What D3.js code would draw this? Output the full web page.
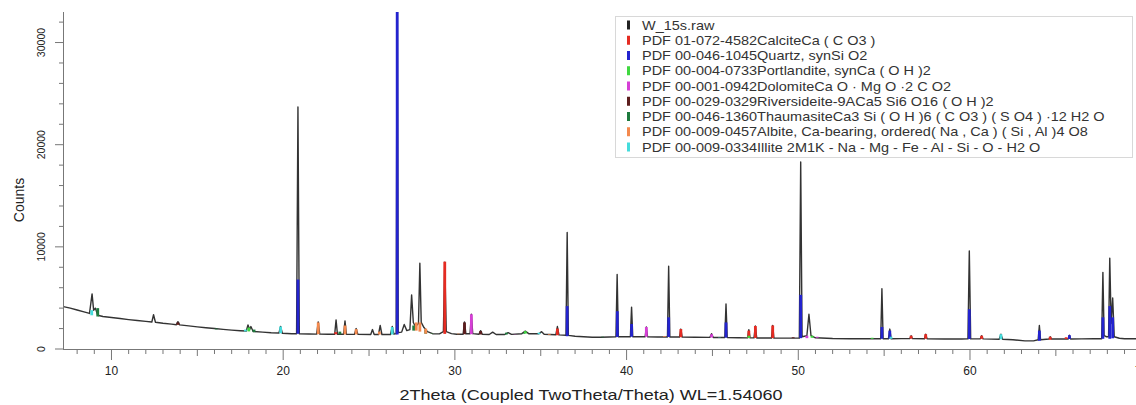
<!DOCTYPE html>
<html>
<head>
<meta charset="utf-8">
<script src="https://cdn.jsdelivr.net/npm/d3@7"></script>
<style>
body{margin:0;background:#fff;}
#chart{width:1136px;height:405px;}
text{font-family:"Liberation Sans",Arial,sans-serif;fill:#222;}
</style>
</head>
<body>
<div id="chart"></div>
<script>
// raw scan: [2theta, counts]
var rawScan=[
[7.20,4150],[7.6,4000],[8.0,3820],[8.4,3640],[8.72,3480],[8.87,5400],[8.96,3800],[9.06,4000],[9.2,3300],[9.5,3180],
[10.0,3080],[10.5,2980],[11.0,2880],[11.5,2790],[12.0,2700],[12.35,2640],[12.45,3350],[12.56,2620],[13.0,2520],[13.5,2430],
[13.78,2380],[13.87,2680],[13.97,2360],[14.5,2260],[15.0,2170],[15.5,2080],[16.0,2000],[16.5,1920],[17.0,1850],[17.5,1790],
[17.85,1760],[17.95,2350],[18.05,1900],[18.12,2200],[18.25,1720],[18.8,1650],[19.3,1590],[19.75,1560],[19.85,2200],[19.95,1540],
[20.5,1500],[20.78,1490],[20.86,23700],[20.94,1490],[21.5,1470],[21.95,1460],[22.04,2650],[22.13,1460],[22.6,1450],[23.0,1450],
[23.08,2850],[23.16,1450],[23.52,1440],[23.6,2750],[23.68,1440],[24.15,1430],[24.25,2000],[24.35,1430],[25.1,1420],[25.2,1900],
[25.3,1420],[25.55,1420],[25.65,2300],[25.75,1420],[26.25,1420],[26.35,2200],[26.45,1450],[26.58,1500],[26.64,40000],[26.70,1600],
[26.9,1650],[27.05,2400],[27.2,1800],[27.38,1900],[27.48,5300],[27.58,2600],[27.7,2200],[27.88,2500],[27.96,8400],[28.04,2600],
[28.2,2100],[28.4,1700],[28.7,1500],[29.1,1480],[29.33,1700],[29.41,8500],[29.5,1700],[29.8,1500],[30.1,1450],[30.48,1450],
[30.56,2650],[30.64,1500],[30.88,1500],[30.96,3400],[31.04,1500],[31.4,1450],[31.5,1800],[31.6,1450],[32.0,1420],[32.2,1650],
[32.4,1420],[32.9,1420],[33.1,1600],[33.3,1430],[33.9,1500],[34.1,1750],[34.3,1500],[34.9,1500],[35.05,1700],[35.2,1450],
[35.88,1400],[35.97,2200],[36.06,1380],[36.47,1350],[36.54,11400],[36.61,1330],[37.0,1250],[37.5,1200],[38.0,1150],[38.5,1150],
[39.0,1180],[39.38,1200],[39.45,7300],[39.52,1200],[40.22,1200],[40.29,4100],[40.36,1200],[41.08,1200],[41.15,2150],[41.22,1200],
[41.8,1180],[42.38,1180],[42.45,8100],[42.52,1180],[43.08,1170],[43.16,1950],[43.24,1160],[44.0,1150],[44.85,1140],[44.95,1500],
[45.05,1130],[45.72,1120],[45.79,4400],[45.86,1120],[46.5,1100],[47.05,1090],[47.12,1900],[47.19,1090],[47.42,1090],[47.5,2250],
[47.58,1080],[48.44,1070],[48.51,2300],[48.58,1070],[49.2,1060],[50.06,1060],[50.14,18300],[50.22,1200],[50.5,1300],[50.62,3400],
[50.74,1300],[51.0,1100],[52.0,1030],[53.0,1010],[54.0,1000],[54.8,1000],[54.87,5900],[54.94,1000],[55.25,1000],[55.33,1950],
[55.41,1000],[56.0,1020],[56.5,1030],[56.57,1300],[56.64,1020],[57.35,1000],[57.42,1450],[57.5,1000],[58.5,980],[59.5,980],
[59.88,990],[59.96,9600],[60.04,990],[60.6,1000],[60.68,1300],[60.76,990],[61.7,960],[61.8,1450],[61.9,950],[62.5,900],
[63.2,800],[63.7,800],[63.97,900],[64.04,2300],[64.11,900],[64.6,980],[64.67,1200],[64.74,980],[65.3,980],[65.72,980],
[65.79,1350],[65.86,980],[66.5,990],[67.2,1000],[67.67,1000],[67.74,7500],[67.81,1300],[67.95,1200],[68.07,1200],[68.14,8900],
[68.22,2500],[68.31,5000],[68.4,1200],[68.7,1050],[69.0,1000],[69.5,1000],[70.0,1000]
];

// reference sticks per phase: [2theta, counts at top]
var calcite=[[23.06,1650],[29.41,8550],[35.97,2000],[43.16,1950],[47.12,1800],[47.5,2250],[48.51,2300],[56.57,1300],[57.42,1450],[60.68,1300],[64.67,1200],[65.6,1150]];
var quartz=[[20.86,6800],[26.64,40000],[36.54,4200],[39.46,3700],[40.29,2450],[42.45,3100],[45.79,2600],[50.14,5300],[54.87,2150],[55.33,1800],[59.96,3900],[64.04,1800],[65.79,1350],[67.74,3100],[68.14,4200],[68.31,3100]];
var portlandite=[[18.0,2100],[28.66,1500],[34.1,1750],[47.12,1300],[50.8,1300],[54.3,1100]];
var dolomite=[[30.96,3400],[33.5,1450],[41.15,2150],[44.95,1450],[50.5,1300],[51.1,1200]];
var riversideite=[[13.87,2600],[30.56,2600],[31.5,1750],[49.7,1150]];
var thaumasite=[[9.2,4000],[16.1,2000],[18.3,1900],[23.3,1700],[27.6,2300],[28.3,1900],[33.0,1600],[34.0,1550],[38.6,1200]];
var albite=[[13.87,2350],[22.04,2600],[23.6,2300],[24.25,1950],[25.6,1700],[27.75,2600],[27.96,2600],[28.3,2000],[30.2,1500],[35.5,1450],[42.2,1250]];
var illite=[[8.85,3800],[17.8,1900],[19.85,2200],[26.35,2150],[34.9,1600],[45.4,1150],[55.4,1200],[61.8,1450]];

var legendNames=[
"W_15s.raw",
"PDF 01-072-4582CalciteCa ( C O3 )",
"PDF 00-046-1045Quartz, synSi O2",
"PDF 00-004-0733Portlandite, synCa ( O H )2",
"PDF 00-001-0942DolomiteCa O · Mg O ·2 C O2",
"PDF 00-029-0329Riversideite-9ACa5 Si6 O16 ( O H )2",
"PDF 00-046-1360ThaumasiteCa3 Si ( O H )6 ( C O3 ) ( S O4 ) ·12 H2 O",
"PDF 00-009-0457Albite, Ca-bearing, ordered( Na , Ca ) ( Si , Al )4 O8",
"PDF 00-009-0334Illite 2M1K - Na - Mg - Fe - Al - Si - O - H2 O"
];
var legendColors=["#222222","#e52b22","#2323cf","#3fd83f","#d63fd6","#5c1d1d","#1d7a3d","#f4894d","#45dcdc"];
var phases=[calcite,quartz,portlandite,dolomite,riversideite,thaumasite,albite,illite];

var xTicks=d3.range(8,71);
var xLabels=[10,20,30,40,50,60,70];
var yTicks=d3.range(0,33000,2000);
var yLabels=[0,10000,20000,30000];

var _svg=d3.select("#chart").append("svg")
    .attr("width",1136)
    .attr("height",405);

var x=d3.scaleLinear().domain([7.2,70]).range([63.4,1141.7]);
var y=d3.scaleLinear().domain([0,33000]).range([349,11.9]);

_svg.append("clipPath").attr("id","plotclip")
    .append("rect").attr("x",63).attr("y",12).attr("width",1080).attr("height",338);

var plot=_svg.append("g").attr("clip-path","url(#plotclip)");

// raw line
var line=d3.line()
    .x(function(d){return x(d[0]);})
    .y(function(d){return y(d[1]);});
plot.append("path")
    .datum(rawScan)
    .attr("d",line)
    .attr("fill","none")
    .attr("stroke","#333")
    .attr("stroke-width",1.4)
    .attr("stroke-linejoin","round");

// foot of a stick = lowest raw count near it
function footOf(pos){
    var near=rawScan.filter(function(d){return Math.abs(d[0]-pos)<0.6;});
    return d3.min(near,function(d){return d[1];});
}

phases.forEach(function(ph,i){
    plot.selectAll(".stick"+i)
        .data(ph)
        .enter()
        .append("line")
        .attr("x1",function(d){return x(d[0]);})
        .attr("x2",function(d){return x(d[0]);})
        .attr("y1",function(d){return y(footOf(d[0]));})
        .attr("y2",function(d){return y(d[1]);})
        .attr("stroke",legendColors[i+1])
        .attr("stroke-width",2.8);
});

// x axis
var xa=_svg.append("g");
xa.append("line").attr("x1",63).attr("x2",1136).attr("y1",349.5).attr("y2",349.5)
    .attr("stroke","#777").attr("stroke-width",1);
xa.selectAll(".xt").data(xTicks).enter().append("line")
    .attr("x1",function(d){return x(d);})
    .attr("x2",function(d){return x(d);})
    .attr("y1",350)
    .attr("y2",function(d){return d%10===0?360:(d%5===0?356:354);})
    .attr("stroke","#777");
xa.selectAll(".xl").data(xLabels).enter().append("text")
    .attr("x",function(d){return x(d);})
    .attr("y",375)
    .attr("text-anchor","middle")
    .style("font-size","12px")
    .text(function(d){return d;});
xa.append("text")
    .attr("x",591)
    .attr("y",400)
    .attr("text-anchor","middle")
    .attr("textLength",383)
    .attr("lengthAdjust","spacingAndGlyphs")
    .style("font-size","14.5px")
    .text("2Theta (Coupled TwoTheta/Theta) WL=1.54060");

// y axis
var ya=_svg.append("g");
ya.append("line").attr("x1",63.5).attr("x2",63.5).attr("y1",12).attr("y2",350)
    .attr("stroke","#777");
ya.selectAll(".yt").data(yTicks).enter().append("line")
    .attr("x1",63)
    .attr("x2",function(d){return d%10000===0?55:59;})
    .attr("y1",function(d){return y(d);})
    .attr("y2",function(d){return y(d);})
    .attr("stroke","#777");
ya.selectAll(".yl").data(yLabels).enter().append("text")
    .attr("transform",function(d){return "translate(45,"+y(d)+") rotate(-90)";})
    .attr("text-anchor","middle")
    .style("font-size","10.5px")
    .text(function(d){return d;});
ya.append("text")
    .attr("transform","translate(24,200) rotate(-90)")
    .attr("text-anchor","middle")
    .style("font-size","14px")
    .text("Counts");

// legend
var lg=_svg.append("g");
lg.append("rect")
    .attr("x",615.5).attr("y",16.5)
    .attr("width",517).attr("height",141)
    .attr("fill","#fff")
    .attr("stroke","#d8d8d8");
legendNames.forEach(function(n,i){
    var cy=25+i*15.25;
    lg.append("rect")
        .attr("x",627).attr("y",cy-4.5)
        .attr("width",3).attr("height",9)
        .attr("fill",legendColors[i]);
    lg.append("text")
        .attr("transform","translate(642,"+(cy+4.5)+") scale(1.16,1)")
        .style("font-size","12.5px")
        .style("fill","#333")
        .text(n);
});
</script>
</body>
</html>
